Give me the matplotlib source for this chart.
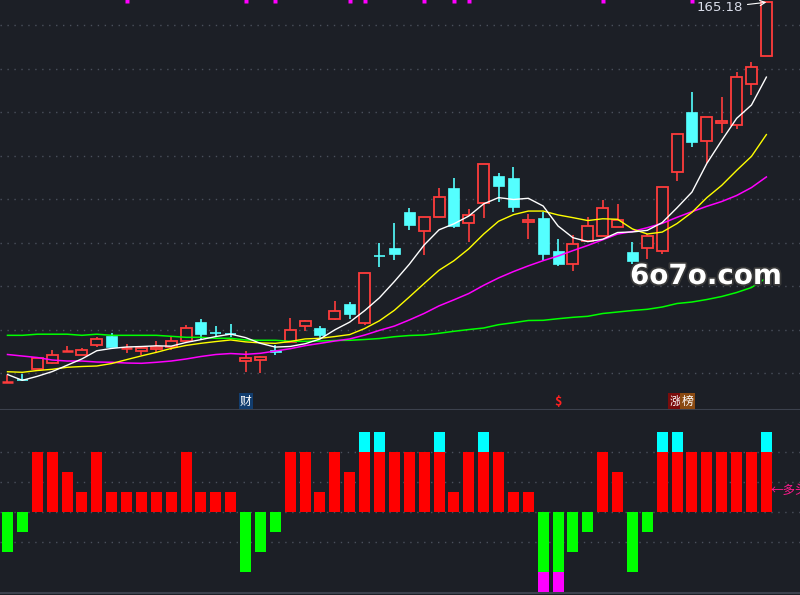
import matplotlib.pyplot as plt
import matplotlib.patheffects as pe
from matplotlib.patches import Rectangle
from matplotlib.transforms import blended_transform_factory

plt.rcParams['font.family'] = ['Noto Sans CJK SC', 'DejaVu Sans']

BG = '#1c1f26'
UP = '#ff3c3c'
DOWN = '#54ffff'
GRID = '#4a505c'

# daily candles (price)
opens = [60.40, 60.95, 64.02, 65.76, 69.00, 67.96, 70.72, 73.20, 69.78, 69.07,
         69.62, 70.17, 71.66, 76.98, 73.98, 73.57, 66.14, 66.42, 69.26, 71.55,
         75.80, 75.33, 77.81, 81.95, 76.79, 95.22, 97.40, 107.33, 102.17, 105.87,
         113.95, 104.21, 109.73, 117.26, 116.71, 104.57, 105.67, 96.57, 92.98, 99.41,
         100.62, 103.27, 96.29, 97.48, 96.49, 118.44, 134.91, 126.83, 131.80, 131.24,
         142.55, 150.28]
highs = [62.36, 62.64, 67.00, 69.26, 70.36, 69.81, 72.76, 73.95, 70.91, 70.17,
         71.66, 72.93, 76.16, 77.81, 75.88, 76.43, 68.98, 67.69, 70.56, 78.09,
         77.40, 75.88, 82.78, 82.50, 90.64, 98.69, 104.29, 108.51, 105.95, 113.95,
         116.71, 108.16, 120.57, 118.09, 119.74, 106.78, 107.33, 99.88, 101.12, 105.87,
         110.64, 109.53, 98.97, 101.18, 114.14, 128.76, 140.43, 133.45, 139.05, 145.95,
         148.79, 165.18]
lows = [60.35, 60.75, 63.90, 65.53, 68.84, 67.88, 70.17, 70.09, 68.51, 67.96,
        68.51, 69.26, 71.47, 72.02, 73.12, 72.71, 63.27, 63.00, 67.88, 71.47,
        74.58, 72.49, 77.53, 77.89, 76.16, 92.24, 94.09, 102.36, 95.55, 105.87,
        102.91, 99.13, 105.59, 110.17, 107.41, 99.96, 94.22, 92.51, 91.19, 99.41,
        100.62, 103.27, 92.90, 94.28, 95.66, 115.96, 125.34, 120.93, 129.20, 130.31,
        139.69, 150.28]
closes = [60.45, 60.88, 66.97, 67.88, 69.07, 69.18, 72.21, 70.17, 69.81, 69.73,
          70.17, 71.74, 75.24, 73.76, 73.93, 73.52, 66.97, 67.33, 68.62, 74.78,
          77.26, 73.48, 80.02, 79.27, 90.50, 95.16, 95.82, 103.74, 105.95, 111.38,
          103.47, 106.50, 120.57, 114.58, 108.79, 105.12, 95.82, 93.06, 98.42, 103.38,
          108.35, 105.12, 93.89, 100.62, 114.14, 128.76, 126.72, 133.45, 132.35, 144.49,
          147.24, 165.18]

# moving averages
ma5 = [62.50, 60.90, 62.00, 63.30, 65.05, 66.80, 69.06, 69.70, 70.09, 70.22,
       70.42, 70.32, 71.34, 72.13, 72.97, 73.64, 72.68, 71.10, 70.07, 70.24,
       70.99, 72.29, 74.83, 76.96, 80.11, 83.69, 88.15, 92.90, 98.23, 102.41,
       104.07, 106.21, 109.57, 111.30, 110.78, 111.11, 108.98, 103.47, 100.24, 99.16,
       99.81, 101.67, 101.83, 102.27, 104.42, 108.51, 112.83, 120.74, 127.08, 133.15,
       136.85, 144.54]
ma10 = [63.27, 63.11, 63.60, 63.94, 64.49, 64.71, 64.85, 65.53, 66.60, 67.64,
        68.61, 69.69, 70.52, 71.11, 71.59, 72.03, 71.50, 71.22, 71.10, 71.61,
        72.32, 72.49, 72.97, 73.52, 75.18, 77.34, 80.22, 83.87, 87.60, 91.26,
        93.88, 97.18, 101.24, 104.77, 106.60, 107.59, 107.59, 106.52, 105.77, 104.97,
        105.46, 105.32, 102.65, 101.26, 101.79, 104.16, 107.25, 111.29, 114.68, 118.79,
        122.68, 128.68]
ma20 = [68.02, 67.60, 67.19, 66.50, 66.22, 66.22, 65.95, 65.87, 65.67, 65.59,
        65.87, 66.22, 66.78, 67.47, 68.02, 68.29, 68.07, 68.35, 68.98, 69.62,
        70.46, 71.09, 71.74, 72.31, 73.38, 74.68, 75.86, 77.54, 79.35, 81.43,
        83.10, 84.84, 87.10, 89.14, 90.89, 92.47, 93.91, 95.19, 96.68, 98.11,
        99.67, 101.25, 101.94, 103.01, 104.19, 105.87, 107.42, 108.90, 110.22, 111.88,
        114.07, 117.00]
ma60 = [73.31, 73.31, 73.62, 73.62, 73.62, 73.31, 73.62, 73.31, 73.31, 73.31,
        73.31, 73.04, 72.76, 72.76, 72.49, 72.49, 72.02, 71.94, 71.94, 71.66,
        71.66, 71.74, 71.88, 71.94, 72.16, 72.43, 72.93, 73.26, 73.40, 73.87,
        74.42, 74.90, 75.33, 76.24, 76.79, 77.40, 77.45, 77.89, 78.28, 78.56,
        79.33, 79.74, 80.16, 80.49, 81.12, 82.09, 82.50, 83.19, 84.02, 85.12,
        86.50, 89.12]

# lower panel signal levels (4 = red + cyan cap, -4 = green + magenta cap)
signal = [-2, -1, 3, 3, 2, 1, 3, 1, 1, 1, 1, 1, 3, 1, 1, 1, -3, -2, -1, 3,
          3, 1, 3, 2, 4, 4, 3, 3, 3, 4, 1, 3, 4, 3, 1, 1, -4, -4, -2, -1,
          3, 2, -3, -1, 4, 4, 3, 3, 3, 3, 3, 4]

mark_days = [8, 16, 18, 23, 24, 28, 30, 31, 40, 46]
grid_prices = [62.91, 74.91, 86.91, 98.91, 110.91, 122.91, 134.91, 146.91, 158.91]
sub_grid = [3, 1.5, 0, -1.5]

n = len(closes)
days = list(range(n))
w = 0.74

fig = plt.figure(figsize=(8, 5.95), dpi=100, facecolor=BG)
ax = fig.add_axes([0, 0.31092, 1, 0.68908], facecolor=BG)
ax2 = fig.add_axes([0, 0, 1, 0.31092], facecolor=BG, sharex=ax)

for a in (ax, ax2):
    for s in a.spines.values():
        s.set_visible(False)
    a.set_xticks([])
    a.set_yticks([])

ax.set_xlim(-0.504, 53.26)
ax.set_ylim(52.71, 165.81)
ax2.set_ylim(-4.165, 5.085)

for g in grid_prices:
    ax.axhline(g, color=GRID, lw=1, ls=(0, (1, 4)), zorder=1)
for g in sub_grid:
    ax2.axhline(g, color=GRID, lw=1, ls=(0, (1, 4)), zorder=1)
ax.spines['bottom'].set_visible(True)
ax.spines['bottom'].set_color('#3c414d')
ax.spines['bottom'].set_linewidth(1.5)
ax2.axhline(-4.065, color='#3c414d', lw=1.5)

# candles
for i in days:
    o, h, l, c = opens[i], highs[i], lows[i], closes[i]
    col = UP if c >= o else DOWN
    top, bot = max(o, c), min(o, c)
    if top - bot < 0.3:
        ax.vlines(i, l, h, color=col, lw=1.2, zorder=3)
        ax.plot([i - w / 2, i + w / 2], [(top + bot) / 2] * 2, color=col,
                lw=1.8 if col == UP else 1.2, solid_capstyle='butt', zorder=3)
    elif col == UP:
        ax.vlines(i, top, h, color=col, lw=1.2, zorder=3)
        ax.vlines(i, l, bot, color=col, lw=1.2, zorder=3)
        ax.add_patch(Rectangle((i - w / 2, bot), w, top - bot, facecolor=BG,
                               edgecolor=UP, lw=1.3, zorder=3))
    else:
        ax.vlines(i, l, h, color=col, lw=1.2, zorder=3)
        ax.add_patch(Rectangle((i - w / 2, bot), w, top - bot, facecolor=DOWN,
                               edgecolor=DOWN, lw=0.5, zorder=3))

ax.plot(days, ma60, color='#00ff00', lw=1.1, zorder=4)
ax.plot(days, ma20, color='#ff00ff', lw=1.1, zorder=4)
ax.plot(days, ma10, color='#ffff00', lw=1.0, zorder=4)
ax.plot(days, ma5, color='white', lw=1.0, zorder=4)

ax.plot(mark_days, [165.5] * len(mark_days), 's', color='#ff00ff', ms=2.2,
        mec='none', clip_on=False, zorder=5)

ax.annotate('165.18', xy=(n - 1, highs[-1]), xytext=(49.45, 163.7),
            ha='right', va='center', color='#d8dce8', fontsize=9.5,
            family=['DejaVu Sans'],
            arrowprops=dict(arrowstyle='->', color='white', lw=0.8,
                            shrinkA=1, shrinkB=0))

# event tags along the bottom of the price panel
tb = blended_transform_factory(ax.transData, ax.transAxes)
ax.text(16, 0.006, '财', transform=tb, ha='center', va='bottom', color='white',
        fontsize=8.5, bbox=dict(boxstyle='square,pad=0.1', fc='#123d6e', ec='none'))
ax.text(37, 0.006, '$', transform=tb, ha='center', va='bottom', color='#ff2020',
        fontsize=9, fontweight='bold')
ax.text(44.86, 0.006, '涨', transform=tb, ha='center', va='bottom', color='white',
        fontsize=8.5, bbox=dict(boxstyle='square,pad=0.1', fc='#7a0c0c', ec='none'))
ax.text(45.7, 0.006, '榜', transform=tb, ha='center', va='bottom', color='white',
        fontsize=8.5, bbox=dict(boxstyle='square,pad=0.1', fc='#8a4a12', ec='none'))

# lower panel bars
for i, v in enumerate(signal):
    if v > 0:
        ax2.bar(i, min(v, 3), width=w, color='#ff0000', zorder=2)
        if v > 3:
            ax2.bar(i, v - 3, bottom=3, width=w, color='#00ffff', zorder=2)
    else:
        ax2.bar(i, max(v, -3), width=w, color='#00ff00', zorder=2)
        if v < -3:
            ax2.bar(i, v + 3, bottom=-3, width=w, color='#ff00ff', zorder=2)

ax2.text(51.25, 1.08, '←多头', ha='left', va='center', color='#ff1a8c',
         fontsize=9, clip_on=False)

fig.text(630 / 800, 1 - 276 / 595, '6o7o.com', ha='left', va='center',
         color='white', fontsize=20, fontweight='bold', family='DejaVu Sans',
         path_effects=[pe.Stroke(linewidth=2.5, foreground='#3a3a3a'), pe.Normal()])

fig.savefig('out.png', dpi=100, facecolor=BG)
